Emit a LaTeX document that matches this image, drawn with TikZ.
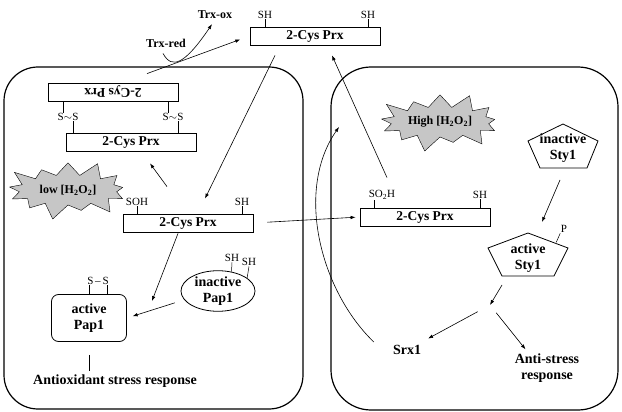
\documentclass[tikz,border=0pt]{standalone}
\usepackage{fontspec}
\setmainfont{Liberation Serif}
\usetikzlibrary{arrows.meta, shapes.geometric, shapes.symbols}

\begin{document}
\begin{tikzpicture}[
  x=1pt, y=-1pt,
  prx/.style={draw, line width=0.8pt, minimum width=130pt, minimum height=18pt,
    inner sep=1pt, font=\bfseries\fontsize{13.5}{15}\selectfont},
  tag/.style={font=\fontsize{11}{12}\selectfont, inner sep=0.5pt},
  labelnode/.style={font=\bfseries\fontsize{14}{16}\selectfont, align=center, inner sep=1pt},
  trxnode/.style={font=\bfseries\fontsize{12}{13}\selectfont, inner sep=1pt},
  burst/.style={starburst, draw, fill=gray!45, starburst points=13,
    starburst point height=17pt, minimum width=132pt, minimum height=64pt,
    inner sep=0pt, font=\bfseries\fontsize{12}{13}\selectfont},
  cell/.style={draw, line width=1.2pt, rounded corners=34pt},
  flow/.style={->, line width=0.6pt},
  tick/.style={line width=0.5pt},
  >={Latex[length=5pt,width=3.6pt]}
]
  \useasboundingbox (0,0) rectangle (622,412);

  %------------------------------------------------------------
  %  CELL OUTLINES
  %------------------------------------------------------------
  \draw[cell] (4,67) rectangle (303,409);
  \draw[cell, rounded corners=40pt] (331,67) rectangle (618,410);

  %------------------------------------------------------------
  %  REDUCED 2-Cys Prx AND THIOREDOXIN
  %------------------------------------------------------------
  \node[prx] (prxtop) at (315,36) {2-Cys Prx};
  \node[tag] (shT1) at (265,15) {SH};
  \node[tag] (shT2) at (368,15) {SH};
  \draw[tick] (shT1.south) -- (shT1.south |- prxtop.north);
  \draw[tick] (shT2.south) -- (shT2.south |- prxtop.north);

  \node[trxnode] (trxred) at (166,43) {Trx-red};
  \node[trxnode] (trxox)  at (215,15) {Trx-ox};

  %------------------------------------------------------------
  %  LOW H2O2:  DISULFIDE DIMER
  %------------------------------------------------------------
  \node[prx] (prxup) at (113,92) {\rotatebox{180}{2-Cys Prx}};
  \node[prx] (prxlo) at (131,142) {2-Cys Prx};
  \node[tag] (ssA) at (68,117) {S$\sim$S};
  \node[tag] (ssB) at (173,117) {S$\sim$S};
  \draw[tick] ([xshift=-5pt]ssA.north) -- ([xshift=-5pt]ssA.north |- prxup.south);
  \draw[tick] ([xshift=5pt]ssA.south) -- ([xshift=5pt]ssA.south |- prxlo.north);
  \draw[tick] ([xshift=-5pt]ssB.north) -- ([xshift=-5pt]ssB.north |- prxup.south);
  \draw[tick] ([xshift=5pt]ssB.south) -- ([xshift=5pt]ssB.south |- prxlo.north);

  \node[burst] (lowburst) at (68,190) {low [H\textsubscript{2}O\textsubscript{2}]};

  \node[prx] (prxmid) at (188,223) {2-Cys Prx};
  \node[tag] (sohL) at (137,202) {SOH};
  \node[tag] (shM)  at (242,202) {SH};
  \draw[tick] (sohL.south) -- (sohL.south |- prxmid.north);
  \draw[tick] (shM.south) -- (shM.south |- prxmid.north);

  %------------------------------------------------------------
  %  Pap1
  %------------------------------------------------------------
  \node[labelnode, draw, line width=0.8pt, rounded corners=7pt, minimum width=75pt,
        minimum height=47pt] (pap1a) at (89,318) {active\\Pap1};
  \node[tag] (ssP) at (98,281) {S\,--\,S};
  \draw[tick] ([xshift=-9pt]ssP.south) -- ([xshift=-9pt]ssP.south |- pap1a.north);
  \draw[tick] ([xshift=9pt]ssP.south) -- ([xshift=9pt]ssP.south |- pap1a.north);

  \node[labelnode, draw, line width=0.8pt, ellipse, inner sep=0pt, minimum width=74pt,
        minimum height=38pt] (pap1i) at (218,291) {inactive\\Pap1};
  \node[tag] (shP1) at (232,258) {SH};
  \node[tag] (shP2) at (249,262) {SH};
  \draw[tick] (shP1.south) -- (pap1i.55);
  \draw[tick] (shP2.south) -- (pap1i.24);

  \node[labelnode] (antiox) at (115,381) {Antioxidant stress response};

  %------------------------------------------------------------
  %  HIGH H2O2:  SULFINIC 2-Cys Prx AND Sty1
  %------------------------------------------------------------
  \node[burst] (highburst) at (440,122) {High [H\textsubscript{2}O\textsubscript{2}]};

  \node[prx] (prxso2) at (425,217) {2-Cys Prx};
  \node[tag] (so2L) at (382,195) {SO\textsubscript{2}H};
  \node[tag] (shS)  at (480,195) {SH};
  \draw[tick] ([xshift=-8pt]so2L.south) -- ([xshift=-8pt]so2L.south |- prxso2.north);
  \draw[tick] (shS.south) -- (shS.south |- prxso2.north);

  \node[labelnode] (sty1i) at (563,148) {inactive\\Sty1};
  \draw[line width=0.8pt, shift={(sty1i.center)}]
    (0,-24) -- (35,-7) -- (24,20) -- (-23,20) -- (-35,-7) -- cycle;

  \node[labelnode] (sty1a) at (528,258) {active\\Sty1};
  \draw[line width=0.8pt, shift={(sty1a.center)}]
    (0,-25) -- (40,-10) -- (26,18) -- (-26,18) -- (-40,-10) -- cycle;
  \node[tag] (plab) at (564,229) {P};
  \draw[tick] (plab.south west) -- ++(-4,9);

  \coordinate (split) at (490,305);
  \coordinate (sulfin) at (339,127);

  \node[labelnode] (srx) at (407,350) {Srx1};
  \node[labelnode] (antistress) at (547,368) {Anti-stress\\response};

  %------------------------------------------------------------
  %  ARROWS
  %------------------------------------------------------------
  \draw[flow, shorten >=10pt] ([xshift=34pt,yshift=9pt]prxup.north) -- (prxtop.west);
  \draw[flow] ([xshift=-3pt,yshift=-5pt]trxred.south)
    .. controls (172,70) and (185,64) .. ([xshift=-3pt,yshift=-4pt]trxox.south);

  \draw[flow] ([xshift=-40pt,yshift=-10pt]prxtop.south)
    -- ([xshift=17pt,yshift=15pt]prxmid.north);
  \draw[flow] ([xshift=-21pt,yshift=27pt]prxmid.north)
    -- ([xshift=19pt,yshift=-12pt]prxlo.south);
  \draw[flow, shorten <=14pt, shorten >=4pt] (prxmid.east) -- (prxso2.west);
  \draw[flow] ([xshift=-38pt,yshift=30pt]prxso2.north)
    -- ([xshift=17pt,yshift=-10pt]prxtop.south);

  \draw[flow] ([xshift=-10pt,yshift=-1pt]prxmid.south)
    -- ([xshift=25pt,yshift=-7pt]pap1a.north east);
  \draw[flow, shorten <=6pt, shorten >=6pt] ([yshift=-10pt]pap1i.west) -- (pap1a.east);
  \draw[line width=0.6pt, shorten <=13pt, shorten >=2pt]
    (pap1a.south) -- (pap1a.south |- antiox.north);

  \draw[flow] ([xshift=-3pt,yshift=-32pt]sty1i.center)
    -- ([xshift=14pt,yshift=36pt]sty1a.center);
  \draw[flow] ([xshift=-26pt,yshift=-27pt]sty1a.center) -- (split);
  \draw[flow, shorten <=14pt, shorten >=24pt] (split) -- (srx.center);
  \draw[flow, shorten <=10pt, shorten >=4pt] (split) -- ([xshift=-19pt]antistress.north);

  \draw[flow] ([xshift=-18pt,yshift=8pt]srx.west)
    .. controls (320,290) and (295,190) .. (sulfin);

\end{tikzpicture}
\end{document}
